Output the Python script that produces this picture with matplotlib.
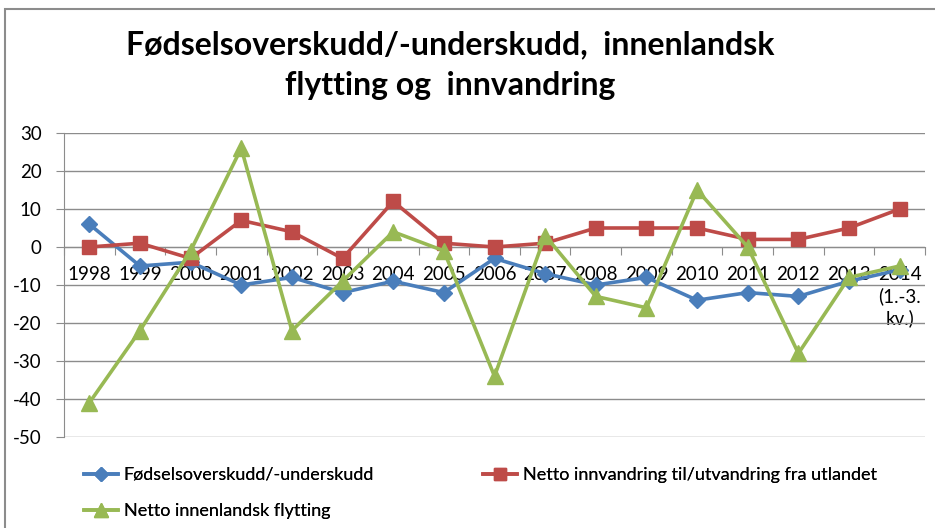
import matplotlib
matplotlib.use("Agg")
import matplotlib.pyplot as plt
from matplotlib.lines import Line2D
from matplotlib.patches import Rectangle

years = ["1998", "1999", "2000", "2001", "2002", "2003", "2004", "2005", "2006",
         "2007", "2008", "2009", "2010", "2011", "2012", "2013", "2014\n(1.-3.\nkv.)"]
fodsel = [6, -5, -4, -10, -8, -12, -9, -12, -3, -7, -10, -8, -14, -12, -13, -9, -6]
innvandring = [0, 1, -3, 7, 4, -3, 12, 1, 0, 1, 5, 5, 5, 2, 2, 5, 10]
innenlandsk = [-41, -22, -1, 26, -22, -9, 4, -1, -34, 3, -13, -16, 15, 0, -28, -8, -5]
yticks = [30, 20, 10, 0, -10, -20, -30, -40, -50]

series_names = ["Fødselsoverskudd/-underskudd",
                "Netto innvandring til/utvandring fra utlandet",
                "Netto innenlandsk flytting"]

FONT = ['Lato', 'DejaVu Sans']
plt.rcParams['font.family'] = FONT

W, H = 935, 528
fig = plt.figure(figsize=(W / 100, H / 100), dpi=100)

# outer frame
fig.patches.append(Rectangle((5 / W, -0.01), 1.2, (H - 9) / H + 0.01, transform=fig.transFigure,
                             fill=False, edgecolor='#8c8c8c', linewidth=1.5))

ax = fig.add_axes([64 / W, (H - 437) / H, (925 - 64) / W, (437 - 133) / H])

blue = '#4a7ebb'
red = '#be4b48'
green = '#98b954'
x = list(range(len(years)))

ax.plot(x, fodsel, color=blue, lw=2.6, marker='D', ms=8, zorder=3)
ax.plot(x, innvandring, color=red, lw=2.6, marker='s', ms=10, zorder=4)
ax.plot(x, innenlandsk, color=green, lw=2.6, marker='^', ms=12, zorder=5)

ax.set_xlim(-0.5, len(years) - 0.5)
ax.set_ylim(-50, 30)
ax.set_yticks(yticks)
ax.set_yticklabels([str(v) for v in yticks])
ax.grid(axis='y', color='#8c8c8c', lw=1)
ax.set_axisbelow(True)

for s in ['top', 'right']:
    ax.spines[s].set_visible(False)
ax.spines['left'].set_color('#8c8c8c')
ax.spines['bottom'].set_color('#8c8c8c')
ax.spines['bottom'].set_position(('data', 0))

ax.set_xticks([i - 0.5 for i in range(len(years) + 1)])
ax.set_xticklabels([])
ax.set_xticks(x, minor=True)
ax.set_xticklabels(years, minor=True, va='top', ha='center', linespacing=1.25)
ax.tick_params(axis='x', which='major', direction='out', length=6, color='#8c8c8c')
ax.tick_params(axis='x', which='minor', length=0, pad=14, labelsize=13.5)
ax.tick_params(axis='y', direction='out', length=6, color='#8c8c8c', labelsize=13.5, pad=10)

fig.text(450 / W, 1 - 45 / H, "Fødselsoverskudd/-underskudd,  innenlandsk",
         ha='center', va='center', fontsize=23, fontweight='bold')
fig.text(450 / W, 1 - 85 / H, "flytting og  innvandring",
         ha='center', va='center', fontsize=23, fontweight='bold')

handles = [Line2D([], [], color=blue, lw=2.6, marker='D', ms=7),
           Line2D([], [], color=red, lw=2.6, marker='s', ms=9),
           Line2D([], [], color=green, lw=2.6, marker='^', ms=10)]
positions = [(84, 475), (483, 475), (84, 511)]
for h, name, (px, py) in zip(handles, series_names, positions):
    leg = fig.legend([h], [name], loc='center left', bbox_to_anchor=(px / W, 1 - py / H),
                     frameon=False, fontsize=13, handlelength=1.9, handletextpad=0.3,
                     borderpad=0, borderaxespad=0)
    fig.add_artist(leg)

fig.savefig("out.png", dpi=100)
